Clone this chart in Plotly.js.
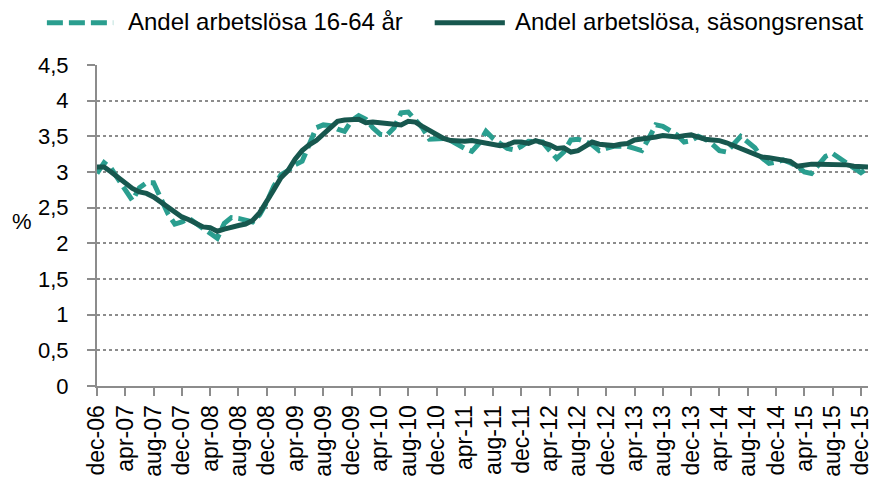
<!DOCTYPE html>
<html>
<head>
<meta charset="utf-8">
<script src="https://cdn.plot.ly/plotly-3.0.1.min.js"></script>
<style>html,body{margin:0;padding:0;background:#fff}#chart{width:883px;height:477px}</style>
</head>
<body>
<div id="chart"></div>
<script>
// Swedish month abbreviations and period (dec-06 .. jan-16)
const monthNames = ["jan","feb","mar","apr","maj","jun","jul","aug","sep","okt","nov","dec"];
const startYear = 2006, startMonth = 11, nMonths = 110;
const months = [];
for (let k = 0; k < nMonths; k++) {
  const m = (startMonth + k) % 12;
  const y = startYear + Math.floor((startMonth + k) / 12);
  months.push(monthNames[m] + "-" + String(y % 100).padStart(2, "0"));
}
const tickLabels = ["dec-06","apr-07","aug-07","dec-07","apr-08","aug-08","dec-08","apr-09","aug-09","dec-09","apr-10","aug-10","dec-10","apr-11","aug-11","dec-11","apr-12","aug-12","dec-12","apr-13","aug-13","dec-13","apr-14","aug-14","dec-14","apr-15","aug-15","dec-15"];

// Andel arbetslösa 16-64 år (%)
const unadjusted = [
  2.98,3.13,3.05,2.90,2.75,2.60,2.78,2.85,2.85,2.62,
  2.42,2.27,2.30,2.35,2.28,2.20,2.12,2.07,2.28,2.36,
  2.35,2.32,2.30,2.40,2.58,2.80,2.96,3.02,3.10,3.15,
  3.38,3.62,3.66,3.65,3.60,3.57,3.72,3.79,3.74,3.62,
  3.53,3.52,3.62,3.83,3.84,3.74,3.62,3.46,3.46,3.47,
  3.44,3.38,3.33,3.29,3.40,3.57,3.47,3.40,3.33,3.31,
  3.36,3.43,3.43,3.42,3.30,3.19,3.28,3.45,3.46,3.43,
  3.38,3.30,3.33,3.36,3.36,3.36,3.33,3.30,3.47,3.66,
  3.64,3.58,3.52,3.42,3.44,3.50,3.46,3.39,3.30,3.28,
  3.38,3.50,3.42,3.34,3.20,3.12,3.14,3.17,3.13,3.08,
  3.00,2.98,3.10,3.22,3.26,3.19,3.11,3.05,2.99,3.06
];
// Andel arbetslösa, säsongsrensat (%)
const adjusted = [
  3.07,3.07,3.00,2.92,2.85,2.77,2.72,2.70,2.65,2.58,
  2.50,2.42,2.37,2.33,2.27,2.23,2.22,2.17,2.20,2.23,
  2.25,2.27,2.32,2.43,2.58,2.75,2.92,3.02,3.18,3.30,
  3.38,3.44,3.53,3.62,3.71,3.73,3.73,3.74,3.69,3.70,
  3.69,3.68,3.67,3.66,3.71,3.70,3.64,3.58,3.52,3.47,
  3.44,3.43,3.43,3.44,3.42,3.40,3.38,3.37,3.38,3.42,
  3.42,3.40,3.44,3.41,3.38,3.33,3.34,3.28,3.30,3.36,
  3.42,3.39,3.38,3.37,3.39,3.40,3.45,3.46,3.47,3.49,
  3.51,3.50,3.49,3.51,3.52,3.49,3.46,3.45,3.44,3.41,
  3.37,3.33,3.28,3.24,3.21,3.20,3.18,3.17,3.15,3.08,
  3.10,3.11,3.11,3.11,3.11,3.10,3.10,3.08,3.07,3.07
];
const seriesNames = ["Andel arbetslösa 16-64 år", "Andel arbetslösa, säsongsrensat"];
const seriesColors = ["#2A9E8F", "#17574E"];
const seriesDash = ["16px,6px", "solid"];
const yTicks = [0,0.5,1,1.5,2,2.5,3,3.5,4,4.5];

const FONT = "Liberation Sans, Arial, sans-serif";
const traces = [
  {x: months, y: unadjusted, name: seriesNames[0], type: "scatter", mode: "lines",
   line: {color: seriesColors[0], width: 5, dash: seriesDash[0]}},
  {x: months, y: adjusted, name: seriesNames[1], type: "scatter", mode: "lines",
   line: {color: seriesColors[1], width: 5, dash: seriesDash[1]}}
];

// Legend drawn above the plot (sample lines + labels), in paper coordinates
const legendY = 1.132;
const legendItems = [
  {x0: -0.065, x1: 0.021, tx: 0.0376},
  {x0: 0.438, x1: 0.529, tx: 0.5396}
];
const shapes = legendItems.map((it, i) => ({
  type: "line", xref: "paper", yref: "paper", x0: it.x0, x1: it.x1, y0: legendY, y1: legendY,
  line: {color: seriesColors[i], width: 5, dash: seriesDash[i]}
}));
const annotations = legendItems.map((it, i) => ({
  text: seriesNames[i], xref: "paper", yref: "paper", x: it.tx, y: legendY + 0.002, showarrow: false,
  xanchor: "left", yanchor: "middle", font: {family: FONT, size: 24, color: "#000"}
}));
annotations.push({text: "%", xref: "paper", yref: "paper", x: -0.097, y: 0.514, showarrow: false,
                  xanchor: "center", yanchor: "middle", font: {family: FONT, size: 22, color: "#000"}});

const layout = {
  width: 883, height: 477,
  margin: {l: 97, r: 15, t: 65, b: 91, pad: 0},
  paper_bgcolor: "#fff", plot_bgcolor: "#fff",
  separators: ", ",
  font: {family: FONT, size: 21, color: "#000"},
  showlegend: false,
  xaxis: {type: "category", range: [0, nMonths - 1], tickmode: "array", tickvals: tickLabels, ticktext: tickLabels,
          tickangle: -90, ticks: "outside", ticklen: 8, tickwidth: 2, tickcolor: "#8c8c8c",
          showline: true, linecolor: "#8c8c8c", linewidth: 2, showgrid: false, zeroline: false,
          tickfont: {family: FONT, size: 23, color: "#000"}, fixedrange: true},
  yaxis: {range: [0, 4.5], tickmode: "array", tickvals: yTicks, ticks: "outside", ticklen: 8, tickwidth: 2,
          tickcolor: "#8c8c8c", showline: true, linecolor: "#8c8c8c", linewidth: 2,
          showgrid: true, gridcolor: "#8c8c8c", gridwidth: 2, griddash: "3px,3px", zeroline: false,
          ticklabelstandoff: 14, tickfont: {family: FONT, size: 22, color: "#000"}, fixedrange: true},
  shapes: shapes,
  annotations: annotations
};
Plotly.newPlot("chart", traces, layout, {displayModeBar: false, staticPlot: true});
</script>
</body>
</html>
